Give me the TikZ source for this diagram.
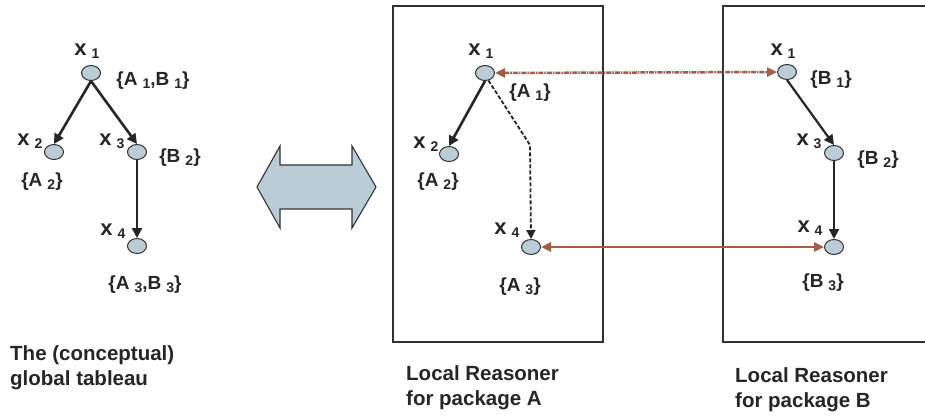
\documentclass[tikz,border=0pt]{standalone}
\usepackage{fontspec}
\setmainfont{Liberation Sans}
\usetikzlibrary{arrows.meta,shapes.geometric}
\definecolor{nodegray}{RGB}{186,204,214}
\definecolor{edgegray}{RGB}{50,50,50}
\definecolor{linkbrown}{RGB}{164,92,70}
\newcommand{\sbs}[1]{\hspace{5pt}\raisebox{-3pt}{\fontsize{14}{14}\selectfont #1}}
\newcommand{\xv}[1]{{\fontsize{22}{22}\selectfont x}\sbs{#1}}

\begin{document}
\begin{tikzpicture}[x=1pt, y=-1pt,
  every node/.style={font=\bfseries\fontsize{19}{19}\selectfont, text=black!85},
  vert/.style={draw=edgegray, fill=nodegray, ellipse, line width=1pt, minimum width=19pt, minimum height=15pt, inner sep=0pt},
  tree/.style={-{Triangle[length=10pt,width=10pt]}, line width=2.6pt, black!85},
  link/.style={{Triangle[length=10pt,width=9pt]}-{Triangle[length=10pt,width=9pt]}, line width=2.5pt, linkbrown},
  note/.style={anchor=north west, align=left, inner sep=0pt, font=\bfseries\fontsize{20.5}{25}\selectfont}]
\clip (0,0) rectangle (925,415);
\fill[white] (0,0) rectangle (925,415);
% reasoner boxes
\draw[line width=1.5pt, edgegray] (393,6) rectangle (603,342);
\draw[line width=1.5pt, edgegray] (723,6) rectangle (928,342);
% the big double arrow
\draw[line width=1.1pt, edgegray, fill=nodegray] (257,187) -- (280,146) -- (280,165) -- (352,165) -- (352,146) -- (376,187)
  -- (352,228) -- (352,209) -- (280,209) -- (280,228) -- cycle;
% global tableau
\node[vert] (g1) at (91,73) {};
\node[vert] (g2) at (54,152) {};
\node[vert] (g3) at (137,152) {};
\node[vert] (g4) at (137,246) {};
\node (g1x) at (87,51) {\xv{1}};
\node (g1s) at (153,81) {\{A\sbs{1},B\sbs{1}\}};
\node (g2x) at (30,141) {\xv{2}};
\node (g2s) at (42,182) {\{A\sbs{2}\}};
\node (g3x) at (112,141) {\xv{3}};
\node (g3s) at (180,158) {\{B\sbs{2}\}};
\node (g4x) at (113,231) {\xv{4}};
\node (g4s) at (145,285) {\{A\sbs{3},B\sbs{3}\}};
\draw[tree] (g1.south) -- (g2.north);
\draw[tree] (g1.south) -- (g3.north);
\draw[tree] (g3.south) -- (g4.north);
% reasoner A
\node[vert] (a1) at (485,73) {};
\node[vert] (a2) at (449,154) {};
\node[vert] (a4) at (531,247) {};
\coordinate (abend) at (530,145);
\node (a1x) at (481,51) {\xv{1}};
\node (a1s) at (530,93) {\{A\sbs{1}\}};
\node (a2x) at (426,144) {\xv{2}};
\node (a2s) at (438,182) {\{A\sbs{2}\}};
\node (a4x) at (507,230) {\xv{4}};
\node (a4s) at (520,287) {\{A\sbs{3}\}};
\draw[tree] (a1.south) -- (a2.north);
\draw[-{Triangle[length=9pt,width=9pt]}, line width=1.8pt, dash pattern=on 4pt off 2pt, black!85] (a1.-65) -- (abend) -- (a4.north);
% reasoner B
\node[vert] (b1) at (787,72) {};
\node[vert] (b3) at (834,153) {};
\node[vert] (b4) at (834,247) {};
\node (b1x) at (783,51) {\xv{1}};
\node (b1s) at (831,80) {\{B\sbs{1}\}};
\node (b3x) at (809,141) {\xv{3}};
\node (b3s) at (878,160) {\{B\sbs{2}\}};
\node (b4x) at (810,228) {\xv{4}};
\node (b4s) at (823,283) {\{B\sbs{3}\}};
\draw[tree, line width=2.2pt] (b1.south) -- (b3.north);
\draw[tree, line width=2.2pt] (b3.south) -- (b4.north);
% links between the reasoners
\draw[link, dash pattern=on 5pt off 1pt on 1.5pt off 1pt] (a1.east) -- (b1.west);
\draw[link] (a4.east) -- (b4.west);
% captions
\node[note] (capg) at (10,345) {The (conceptual)\\global tableau};
\node[note] (capa) at (406,365) {Local Reasoner\\for package A};
\node[note] (capb) at (735,367) {Local Reasoner\\for package B};
\end{tikzpicture}
\end{document}
